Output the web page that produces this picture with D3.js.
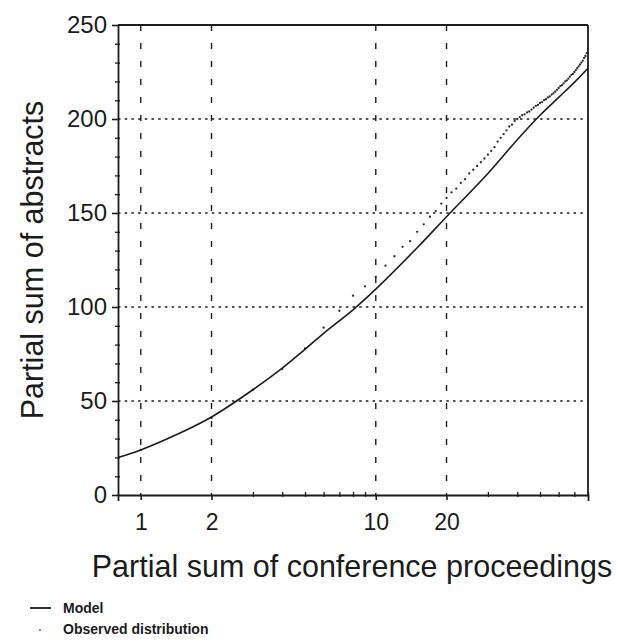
<!DOCTYPE html>
<html>
<head>
<meta charset="utf-8">
<script src="https://cdn.jsdelivr.net/npm/d3@7/dist/d3.min.js"></script>
<style>
  html, body { margin: 0; padding: 0; background: #fff; }
  svg { display: block; }
  text { font-family: "Liberation Sans", Arial, Helvetica, sans-serif; fill: #1c1c1c; }
</style>
</head>
<body>
<script>
// ---- data ----
const xTickValues = [1, 2, 10, 20];
const xMinorTicks = [3, 4, 5, 6, 7, 8, 9, 30, 40, 50, 60, 70, 80];
const yTickValues = [0, 50, 100, 150, 200, 250];
const yMinorTicks = [10, 20, 30, 40, 60, 70, 80, 90, 110, 120, 130, 140, 160, 170, 180, 190, 210, 220, 230, 240];
const yGridValues = [50, 100, 150, 200];

// Model curve (x = partial sum of conference proceedings, y = partial sum of abstracts)
const modelX = [0.8, 1, 1.5, 2, 3, 4, 5, 6, 8, 10, 15, 20, 30, 40, 50, 60, 70, 80];
const modelY = [20, 24, 33.5, 41.5, 56, 67.5, 77.5, 86, 98.5, 109.5, 131.5, 148, 171, 189, 202, 211.5, 219.5, 227];

// Observed distribution (one point per integer partial sum)
const observedX = d3.range(1, 81);
const observedY = [
  24, 41, 56, 67, 78, 89, 98, 106, 111, 116,
  122, 127, 132, 135, 140, 144, 148, 151, 155, 158,
  161, 163, 166, 168, 171, 173, 175, 177, 179, 181,
  183, 185, 188, 190, 192, 194, 196, 197, 199, 200,
  201, 202, 202.5, 203.5, 204, 205, 206, 207, 207.5, 208.5,
  209, 210, 210.5, 211.5, 212, 213, 213.6, 214.5, 215.5, 216.5,
  217.5, 218, 219, 220, 220.5, 221.5, 222.5, 223.5, 224, 225,
  226, 227, 228, 229, 230, 231, 232.5, 233.5, 235, 237
];

const xTitle = "Partial sum of conference proceedings";
const yTitle = "Partial sum of abstracts";
const legendLabels = ["Model", "Observed distribution"];

// ---- drawing ----
const W = 619, H = 640;
const pLeft = 118, pRight = 588, pTop = 25, pBottom = 495;
const ink = "#1c1c1c";

const svg = d3.select("body").append("svg").attr("width", W).attr("height", H);

const x = d3.scaleLog().domain([0.8, 80]).range([pLeft, pRight]);
const y = d3.scaleLinear().domain([0, 250]).range([pBottom, pTop]);

// gridlines
svg.append("g").selectAll("line").data(xTickValues).join("line")
  .attr("x1", d => x(d)).attr("x2", d => x(d))
  .attr("y1", pTop).attr("y2", pBottom)
  .attr("stroke", ink).attr("stroke-width", 1.4)
  .attr("stroke-dasharray", "6,12");

svg.append("g").selectAll("line").data(yGridValues).join("line")
  .attr("x1", pLeft).attr("x2", pRight)
  .attr("y1", d => y(d)).attr("y2", d => y(d))
  .attr("stroke", ink).attr("stroke-width", 1.6)
  .attr("stroke-dasharray", "2.5,4.2");

// frame: top and right
svg.append("line").attr("x1", pLeft).attr("x2", pRight).attr("y1", pTop).attr("y2", pTop)
  .attr("stroke", ink).attr("stroke-width", 1.8);
svg.append("line").attr("x1", pRight).attr("x2", pRight).attr("y1", pTop).attr("y2", pBottom)
  .attr("stroke", ink).attr("stroke-width", 1.8);

// y axis
const yAxis = svg.append("g").attr("transform", `translate(${pLeft},0)`)
  .call(d3.axisLeft(y).tickValues(yTickValues).tickSize(6).tickPadding(5).tickSizeOuter(0));
yAxis.select(".domain").attr("stroke", ink).attr("stroke-width", 1.8);
yAxis.selectAll(".tick line").attr("stroke", ink).attr("stroke-width", 1.6);
yAxis.selectAll(".tick text").attr("font-size", 24).attr("fill", ink)
  .attr("font-family", "Liberation Sans, Arial, sans-serif");

const yMinor = svg.append("g").attr("transform", `translate(${pLeft + 2},0)`)
  .call(d3.axisLeft(y).tickValues(yMinorTicks).tickSize(5).tickFormat(""));
yMinor.select(".domain").remove();
yMinor.selectAll(".tick line").attr("stroke", ink).attr("stroke-width", 1.3);

// x axis
const xAxis = svg.append("g").attr("transform", `translate(0,${pBottom})`)
  .call(d3.axisBottom(x).tickValues(xTickValues).tickFormat(d3.format("d"))
    .tickSize(5).tickPadding(14).tickSizeOuter(6));
xAxis.select(".domain").attr("stroke", ink).attr("stroke-width", 1.8);
xAxis.selectAll(".tick line").attr("stroke", ink).attr("stroke-width", 1.6);
xAxis.selectAll(".tick text").attr("font-size", 23).attr("fill", ink)
  .attr("font-family", "Liberation Sans, Arial, sans-serif");

const xMinor = svg.append("g").attr("transform", `translate(0,${pBottom + 2})`)
  .call(d3.axisBottom(x).tickValues(xMinorTicks).tickSize(-5).tickFormat(""));
xMinor.select(".domain").remove();
xMinor.selectAll(".tick line").attr("stroke", ink).attr("stroke-width", 1.3);

// observed distribution points
svg.append("g").selectAll("circle").data(observedX.map((d, i) => [d, observedY[i]])).join("circle")
  .attr("cx", d => x(d[0])).attr("cy", d => y(d[1])).attr("r", 1.15)
  .attr("fill", "#2a2a2a");

// model line
const line = d3.line().x(d => x(d[0])).y(d => y(d[1])).curve(d3.curveCatmullRom.alpha(0.5));
svg.append("path").datum(modelX.map((d, i) => [d, modelY[i]]))
  .attr("d", line).attr("fill", "none").attr("stroke", ink).attr("stroke-width", 1.6);

// axis titles
svg.append("text").attr("x", 352).attr("y", 577).attr("text-anchor", "middle")
  .attr("font-size", 30.5).text(xTitle);
svg.append("text").attr("transform", "translate(43,260) rotate(-90)").attr("text-anchor", "middle")
  .attr("font-size", 30.5).text(yTitle);

// legend
svg.append("line").attr("x1", 30).attr("x2", 51).attr("y1", 608).attr("y2", 608)
  .attr("stroke", ink).attr("stroke-width", 1.8);
svg.append("text").attr("x", 63).attr("y", 613).attr("font-size", 14).attr("font-weight", "bold")
  .text(legendLabels[0]);
svg.append("circle").attr("cx", 40).attr("cy", 630).attr("r", 0.9).attr("fill", "#555");
svg.append("text").attr("x", 63).attr("y", 634).attr("font-size", 14).attr("font-weight", "bold")
  .text(legendLabels[1]);
</script>
</body>
</html>
